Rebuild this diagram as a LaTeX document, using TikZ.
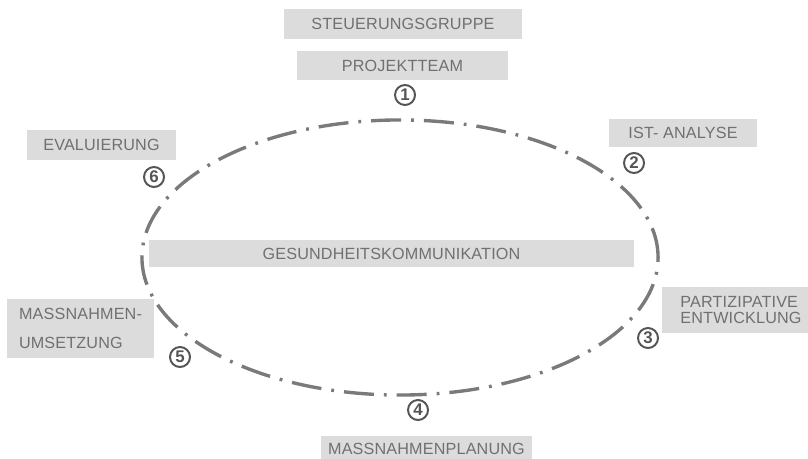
\documentclass[tikz,border=0pt]{standalone}
\usepackage{fontspec}
\usepackage{tikz}
\usetikzlibrary{positioning}
\newfontfamily\lblfont{Liberation Sans}[LetterSpace=1]
\newfontfamily\numfont{Liberation Sans}
\definecolor{cBox}{HTML}{DCDCDC}
\definecolor{cText}{HTML}{707070}
\definecolor{cRing}{HTML}{7A7A7A}
\definecolor{cNum}{HTML}{555555}

\begin{document}
\begin{tikzpicture}[
  x=0.025cm, y=-0.025cm,
  lbl/.style={fill=cBox,text=cText,inner sep=0pt,align=center,
              font=\lblfont\fontsize{11.5}{12}\selectfont},
  num/.style={circle,draw=cNum,line width=1.4pt,text=cNum,inner sep=0pt,
              minimum size=0.5cm,font=\numfont\bfseries\fontsize{12}{12}\selectfont},
  ring/.style={draw=cRing,line width=2.4pt,
               dash pattern=on 0.75cm off 0.25cm on 0.07cm off 0.25cm},
  ]
  \useasboundingbox (0,0) rectangle (808,459);

  % the cycle
  \draw[ring] (400,257.5) ellipse [x radius=6.45cm, y radius=3.4375cm];

  \node[lbl,minimum width=5.95cm,minimum height=0.75cm] (steuer) at (403,24)
    {STEUERUNGSGRUPPE};
  \node[lbl,minimum width=5.275cm,minimum height=0.725cm] (projekt) at (402.5,65.5)
    {PROJEKTTEAM};
  \node[lbl,minimum width=3.725cm,minimum height=0.75cm] (eval) at (101.5,145)
    {EVALUIERUNG};
  \node[lbl,minimum width=3.7cm,minimum height=0.7cm] (ist) at (683,133)
    {IST- ANALYSE};
  \node[lbl,minimum width=12.125cm,minimum height=0.675cm] (gesund) at (391.5,253.5)
    {GESUNDHEITSKOMMUNIKATION};
  \node[lbl,align=left,minimum width=3.675cm,minimum height=1.475cm,
        font=\lblfont\fontsize{11.5}{21}\selectfont] (umsetz) at (80.5,328.5)
    {MASSNAHMEN-\\UMSETZUNG};
  \node[lbl,align=left,minimum width=3.95cm,minimum height=1.15cm] (partiz) at (741,310)
    {PARTIZIPATIVE\\ENTWICKLUNG};
  \node[lbl,minimum width=5.275cm,minimum height=0.65cm] (planung) at (426.5,449)
    {MASSNAHMENPLANUNG};

  \node[num] (n1) at (405,95) {1};
  \node[num] (n2) at (634,163) {2};
  \node[num] (n3) at (648,338) {3};
  \node[num] (n4) at (418,410) {4};
  \node[num] (n5) at (180,357) {5};
  \node[num] (n6) at (154,177) {6};
\end{tikzpicture}
\end{document}
